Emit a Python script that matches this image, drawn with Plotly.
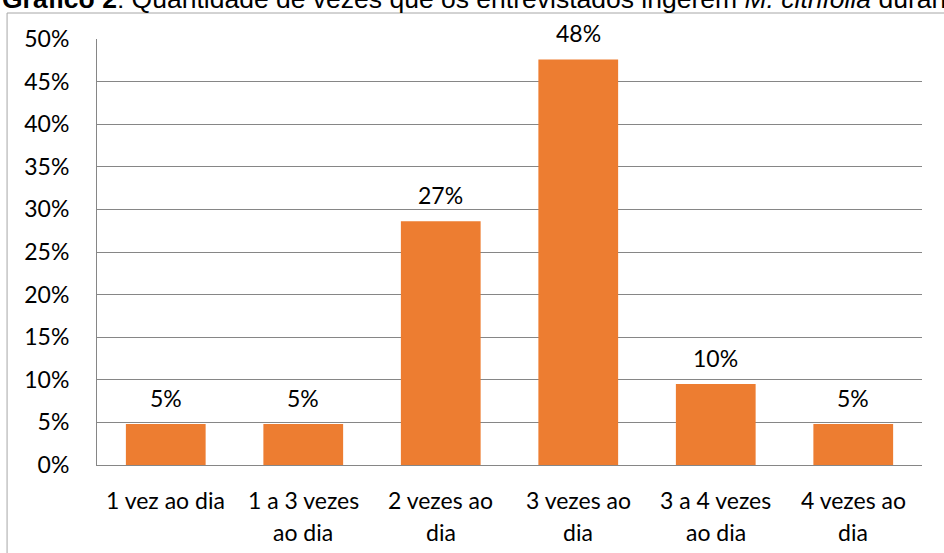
import plotly.graph_objects as go

categories = ["1 vez ao dia", "1 a 3 vezes ao dia", "2 vezes ao dia",
              "3 vezes ao dia", "3 a 4 vezes ao dia", "4 vezes ao dia"]
label_line1 = ["1 vez ao dia", "1 a 3 vezes", "2 vezes ao", "3 vezes ao", "3 a 4 vezes", "4 vezes ao"]
label_line2 = ["", "ao dia", "dia", "dia", "ao dia", "dia"]
values = [0.048, 0.048, 0.286, 0.476, 0.095, 0.048]
value_labels = ["5%", "5%", "27%", "48%", "10%", "5%"]
y_ticks = [0, 0.05, 0.10, 0.15, 0.20, 0.25, 0.30, 0.35, 0.40, 0.45, 0.50]

title_html = ("<b>Gráfico 2</b>: Quantidade de vezes que os entrevistados ingerem "
              "<i>M. citrifolia</i> durante o dia")

FONT = "Lato"
FS = 23
fig = go.Figure()
fig.add_trace(go.Bar(x=categories, y=values, marker=dict(color="#ED7D31", line=dict(width=0)),
                     width=0.58, hoverinfo="skip"))

ann = []
for c, v, t in zip(categories, values, value_labels):
    ann.append(dict(x=c, y=v, xref="x", yref="y", text=t, showarrow=False,
                    yanchor="bottom", yshift=10, font=dict(family=FONT, size=FS, color="#000")))
for c, l1, l2 in zip(categories, label_line1, label_line2):
    ann.append(dict(x=c, y=0, xref="x", yref="paper", text=l1, showarrow=False,
                    yanchor="middle", yshift=-35, font=dict(family=FONT, size=FS, color="#000")))
    if l2:
        ann.append(dict(x=c, y=0, xref="x", yref="paper", text=l2, showarrow=False,
                        yanchor="middle", yshift=-67, font=dict(family=FONT, size=FS, color="#000")))
ann.append(dict(x=-0.1176, y=1.134, xref="paper", yref="paper", text=title_html, showarrow=False,
                xanchor="left", yanchor="top",
                font=dict(family="Liberation Sans", size=26.5, color="#000")))

fig.update_layout(
    width=944, height=553,
    margin=dict(l=97, r=22, t=39, b=88),
    paper_bgcolor="white", plot_bgcolor="white",
    showlegend=False,
    bargap=0.42,
    annotations=ann,
    shapes=[dict(type="rect", xref="paper", yref="paper", x0=-0.109, x1=1.2, y0=-0.4, y1=1.061,
                 line=dict(color="#A6A6A6", width=1), layer="below")],
    xaxis=dict(showticklabels=False, showgrid=False, showline=True, linecolor="#868686",
               linewidth=1, ticks="", zeroline=False),
    yaxis=dict(range=[0, 0.5], tickvals=y_ticks, tickformat=".0%", showgrid=True,
               gridcolor="#868686", gridwidth=1, showline=True, linecolor="#868686",
               linewidth=1, ticks="", ticklabelstandoff=22, zeroline=False,
               tickfont=dict(family=FONT, size=FS, color="#000")),
)
fig.write_html("out.html")
